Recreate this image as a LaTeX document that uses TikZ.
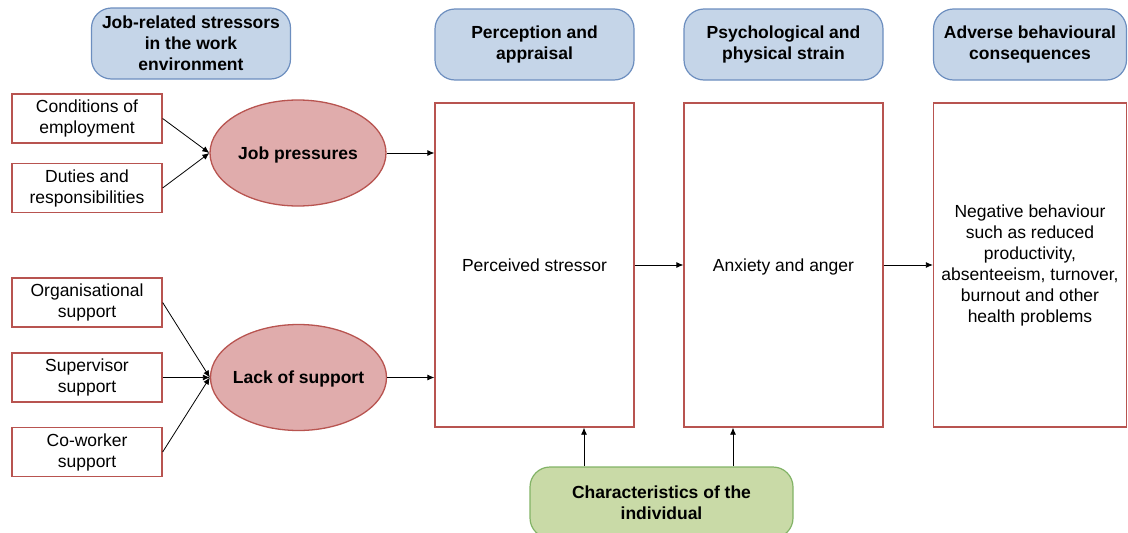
\documentclass[tikz,border=0pt]{standalone}
\usepackage{fontspec}
\setmainfont{Liberation Sans}
\usetikzlibrary{shapes.geometric,arrows.meta}
\definecolor{hdrfill}{HTML}{C5D5E8}
\definecolor{hdrline}{HTML}{6C8EBF}
\definecolor{redline}{HTML}{B85450}
\definecolor{ellfill}{HTML}{E0ACAC}
\definecolor{grnfill}{HTML}{C9DAA7}
\definecolor{grnline}{HTML}{82B366}
% a strut as tall as one line of the body font
\newcommand{\linestrut}{\rule[-3.7pt]{0pt}{19.5pt}}
% single-line label that does not widen its shape
\newcommand{\flatlabel}[1]{\makebox[0pt]{\linestrut#1}}
\tikzset{
  base/.style={inner sep=0pt, align=center, font=\fontsize{17.5}{21}\selectfont},
  hdr/.style={base, draw=hdrline, fill=hdrfill, line width=1.2pt, rounded corners=20pt,
    minimum width=199pt, minimum height=71pt, font=\fontsize{17.5}{21}\selectfont\bfseries},
  factor/.style={base, draw=redline, line width=1.3pt, minimum width=150pt, minimum height=49pt},
  ell/.style={base, ellipse, draw=redline, fill=ellfill, line width=1.3pt,
    minimum width=176pt, minimum height=106pt, font=\fontsize{17.5}{21}\selectfont\bfseries},
  stage/.style={base, draw=redline, line width=1.3pt, minimum height=324pt},
  indiv/.style={base, draw=grnline, fill=grnfill, line width=1.2pt, rounded corners=20pt,
    minimum width=263pt, minimum height=71pt, font=\fontsize{17.5}{21}\selectfont\bfseries},
  arr/.style={line width=0.8pt, -{Latex[length=7pt,width=6pt]}}
}
\begin{document}
\begin{tikzpicture}[x=1pt,y=-1pt]
\useasboundingbox (0,0) rectangle (1128,533);
\clip (0,0) rectangle (1128,533);

% column headings
\node[hdr] (h1) at (191,43.5) {Job-related stressors\\in the work\\environment};
\node[hdr] (h2) at (534.5,44.5) {Perception and\\appraisal};
\node[hdr] (h3) at (783.5,44.5) {Psychological and\\physical strain};
\node[hdr, minimum width=193pt] (h4) at (1030,44.5) {Adverse behavioural\\consequences};

% stressor sources
\node[factor] (c1) at (87,118.5) {Conditions of\\employment};
\node[factor] (c2) at (87,188) {Duties and\\responsibilities};
\node[factor] (s1) at (87,302.5) {Organisational\\support};
\node[factor] (s2) at (87,377.5) {Supervisor\\support};
\node[factor] (s3) at (87,452) {Co-worker\\support};

% grouped stressors
\node[ell] (jp) at (298,153) {\flatlabel{Job pressures}};
\node[ell] (ls) at (298.5,377.5) {\flatlabel{Lack of support}};

% process stages
\node[stage, minimum width=199pt] (ps) at (534.5,265) {\linestrut Perceived stressor};
\node[stage, minimum width=199pt] (ax) at (783.5,265) {\linestrut Anxiety and anger};
\node[stage, minimum width=193pt] (nb) at (1030,265) {Negative behaviour\\such as reduced\\productivity,\\absenteeism, turnover,\\burnout and other\\health problems};

% moderating characteristics
\node[indiv] (ci) at (661.5,502.5) {Characteristics of the\\individual};

% connectors
\draw[arr] (c1.east) -- (jp.west);
\draw[arr] (c2.east) -- (jp.west);
\draw[arr] (s1.east) -- (ls.west);
\draw[arr] (s2.east) -- (ls.west);
\draw[arr] (s3.east) -- (ls.west);
\draw[arr] (jp.east) -- (jp.east -| ps.west);
\draw[arr] (ls.east) -- (ls.east -| ps.west);
\draw[arr] (ps.east) -- (ax.west);
\draw[arr] (ax.east) -- (nb.west);
\draw[arr] ([xshift=-77.5pt]ci.north) -- ([xshift=-77.5pt]ci.north |- ps.south);
\draw[arr] ([xshift=71.5pt]ci.north) -- ([xshift=71.5pt]ci.north |- ax.south);
\end{tikzpicture}
\end{document}
